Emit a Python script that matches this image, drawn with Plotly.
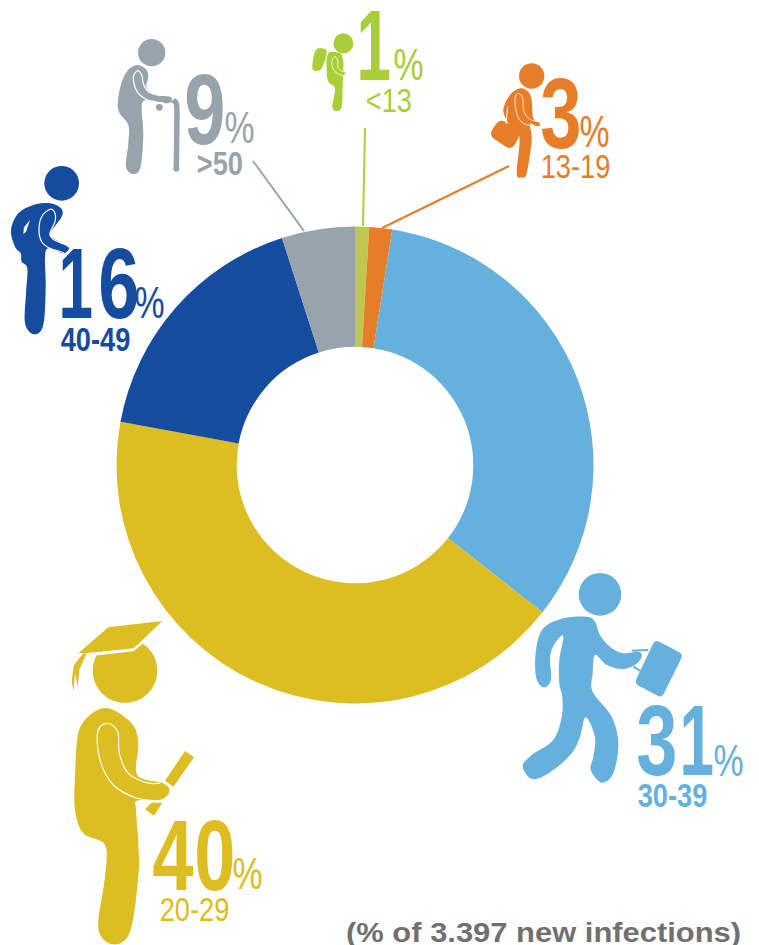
import json
import plotly.graph_objects as go

W, H = 759, 945
CX, CY, R = 355, 465, 238.5

# ---- data ----
age_groups = ["<13", "13-19", "30-39", "20-29", "40-49", ">50"]
slice_shares = [0.95, 1.55, 33.1, 42.3, 17.15, 4.95]   # drawn share of the ring
label_percent = [1, 3, 31, 40, 16, 9]                  # printed figures
slice_colors = ["#BFC751", "#E77D29", "#66B0DE", "#DCBD22", "#164C9F", "#98A4AC"]
text_colors = ["#A8CE38", "#E77D29", "#66B0DE", "#DCBD22", "#164C9F", "#98A4AC"]
note = "(% of 3.397 new infections)"

# ---- decoration helpers (pixel space) ----
shapes = []


def smooth(pts):
    n = len(pts)
    d = f"M{pts[0][0]:.1f},{pts[0][1]:.1f}"
    for i in range(n):
        p0, p1, p2, p3 = pts[i - 1], pts[i], pts[(i + 1) % n], pts[(i + 2) % n]
        c1 = (p1[0] + (p2[0] - p0[0]) / 6, p1[1] + (p2[1] - p0[1]) / 6)
        c2 = (p2[0] - (p3[0] - p1[0]) / 6, p2[1] - (p3[1] - p1[1]) / 6)
        d += f"C{c1[0]:.1f},{c1[1]:.1f} {c2[0]:.1f},{c2[1]:.1f} {p2[0]:.1f},{p2[1]:.1f}"
    return d + "Z"


def open_smooth(pts):
    n = len(pts)
    d = f"M{pts[0][0]:.1f},{pts[0][1]:.1f}"
    for i in range(n - 1):
        p0, p1, p2, p3 = pts[max(i - 1, 0)], pts[i], pts[i + 1], pts[min(i + 2, n - 1)]
        c1 = (p1[0] + (p2[0] - p0[0]) / 6, p1[1] + (p2[1] - p0[1]) / 6)
        c2 = (p2[0] - (p3[0] - p1[0]) / 6, p2[1] - (p3[1] - p1[1]) / 6)
        d += f"C{c1[0]:.1f},{c1[1]:.1f} {c2[0]:.1f},{c2[1]:.1f} {p2[0]:.1f},{p2[1]:.1f}"
    return d


def tr(pts, ox, oy):
    return [(ox + x / 3, oy + y / 3) for x, y in pts]


def blob(pts, color, ox=0, oy=0):
    shapes.append(dict(type="path", path=smooth(tr(pts, ox, oy)), fillcolor=color,
                       line=dict(width=0), xref="x", yref="y"))


def poly(pts, color, ox=0, oy=0):
    p = tr(pts, ox, oy)
    d = "M" + "L".join(f"{x:.1f},{y:.1f}" for x, y in p) + "Z"
    shapes.append(dict(type="path", path=d, fillcolor=color, line=dict(width=0), xref="x", yref="y"))


def rpoly(pts, r, color, ox=0, oy=0):
    """Polygon with rounded corners."""
    p = tr(pts, ox, oy)
    n = len(p)
    d = ""
    for i in range(n):
        a, b, c = p[i - 1], p[i], p[(i + 1) % n]
        la = ((a[0] - b[0]) ** 2 + (a[1] - b[1]) ** 2) ** 0.5
        lc = ((c[0] - b[0]) ** 2 + (c[1] - b[1]) ** 2) ** 0.5
        s = (b[0] + (a[0] - b[0]) * r / la, b[1] + (a[1] - b[1]) * r / la)
        e = (b[0] + (c[0] - b[0]) * r / lc, b[1] + (c[1] - b[1]) * r / lc)
        d += ("M" if i == 0 else "L") + f"{s[0]:.1f},{s[1]:.1f}Q{b[0]:.1f},{b[1]:.1f} {e[0]:.1f},{e[1]:.1f}"
    shapes.append(dict(type="path", path=d + "Z", fillcolor=color, line=dict(width=0), xref="x", yref="y"))


def stroke(pts, color, width=1.2, ox=0, oy=0):
    shapes.append(dict(type="path", path=open_smooth(tr(pts, ox, oy)),
                       line=dict(color=color, width=width), xref="x", yref="y"))


def disc(x, y, r, color, ox=0, oy=0):
    x, y, r = ox + x / 3, oy + y / 3, r / 3
    shapes.append(dict(type="circle", x0=x - r, x1=x + r, y0=y - r, y1=y + r, fillcolor=color,
                       line=dict(width=0), xref="x", yref="y"))


def leader(x0, y0, x1, y1, color):
    shapes.append(dict(type="line", x0=x0, y0=y0, x1=x1, y1=y1, xref="x", yref="y",
                       line=dict(color=color, width=2)))


GREEN, ORANGE, BLUE, GOLD, NAVY, GREY = text_colors

# leaders
leader(365, 128, 363, 226, GREEN)
leader(509, 166, 382, 228, ORANGE)
leader(253, 161, 304, 231, GREY)

# navy figure
disc(185, 550, 52, NAVY)
blob([(150, 610), (100, 615), (55, 640), (33, 690), (45, 740), (62, 760), (65, 785), (82, 805), (78, 880),
      (75, 970), (102, 1003), (130, 975), (137, 860), (135, 775), (145, 745), (190, 760), (207, 745),
      (190, 733), (160, 715), (150, 700), (185, 650), (183, 625)], NAVY)
stroke([(192, 758), (150, 745), (125, 725), (117, 690), (125, 650), (150, 628), (165, 640), (165, 665),
        (150, 700), (160, 718), (190, 732)], "white")
poly([(90, 660), (72, 682), (70, 702), (78, 695)], "white")

# grey figure
disc(455, 158, 41, GREY)
blob([(410, 195), (380, 215), (360, 265), (355, 330), (385, 375), (385, 430), (378, 500), (400, 522),
      (422, 500), (430, 400), (425, 320), (440, 300), (500, 310), (515, 300), (510, 290), (470, 285), (440, 265),
      (445, 225), (435, 205)], GREY)
stroke([(490, 308), (455, 305), (415, 280), (400, 235), (412, 212), (425, 225), (430, 250), (445, 275),
        (480, 287)], "white")
stroke([(518, 300), (530, 318), (530, 420), (529, 506)], GREY, width=5.5)
disc(529, 506, 9, GREY)
disc(478, 322, 10, GREY)

# green figure
disc(130, 130, 30, GREEN, 300, 0)
blob([(60, 145), (80, 155), (65, 205), (45, 212), (37, 200), (45, 155)], GREEN, 300, 0)
blob([(85, 160), (120, 160), (130, 185), (130, 210), (138, 220), (130, 228), (128, 260), (125, 320),
      (110, 333), (97, 320), (105, 265), (85, 245), (80, 210)], GREEN, 300, 0)
stroke([(130, 228), (105, 215), (95, 190), (103, 170), (113, 180), (115, 205), (135, 217)], "white", 0.8, 300, 0)

# orange figure
disc(695, 228, 38, ORANGE, 300, 0)
rpoly([(600, 355), (665, 395), (635, 452), (565, 405)], 8, ORANGE, 300, 0)
blob([(660, 265), (630, 285), (610, 330), (625, 370), (658, 410), (650, 520), (665, 532), (680, 520),
      (695, 420), (690, 372), (712, 380), (720, 370), (700, 355), (695, 300), (685, 275)], ORANGE, 300, 0)
stroke([(623, 320), (618, 372)], "white", 1, 300, 0)
stroke([(715, 380), (670, 370), (650, 340), (645, 295), (655, 280), (668, 295), (672, 335), (690, 358),
        (715, 365)], "white", 0.8, 300, 0)

# light-blue figure
disc(300, 103, 64, BLUE, 500, 560)
blob([(260, 170), (190, 175), (130, 205), (108, 270), (108, 350), (130, 382), (153, 360), (150, 290),
      (165, 250), (190, 228), (178, 300), (178, 370), (187, 410), (185, 470), (160, 540), (95, 585),
      (68, 620), (100, 658), (160, 630), (215, 580), (240, 530), (257, 472), (285, 530), (280, 590),
      (272, 630), (305, 668), (340, 640), (355, 550), (335, 470), (278, 395), (278, 340), (285, 285),
      (320, 315), (365, 327), (405, 315), (425, 290), (415, 275), (370, 280), (330, 260), (300, 225),
      (285, 185)], BLUE, 500, 560)
rpoly([(465, 238), (550, 283), (485, 414), (403, 370)], 5, BLUE, 500, 560)
stroke([(395, 272), (445, 270)], BLUE, 2, 500, 560)
stroke([(400, 320), (422, 333)], BLUE, 2, 500, 560)

# gold figure
disc(225, 182, 97, GOLD, 50, 610)
poly([(125, 138), (250, 124), (290, 92), (335, 60), (125, 60)], "white", 50, 610)
poly([(85, 130), (175, 52), (337, 33), (262, 105), (250, 115), (120, 128)], GOLD, 50, 610)
poly([(100, 130), (72, 165), (65, 210), (70, 245), (75, 190), (83, 230), (88, 180), (110, 130)], GOLD, 50, 610)
blob([(175, 295), (120, 315), (85, 370), (75, 500), (75, 600), (100, 670), (165, 705), (165, 800),
      (145, 955), (190, 1003), (240, 965), (265, 800), (265, 700), (258, 600), (262, 572), (330, 570),
      (358, 545), (340, 520), (262, 495), (265, 400), (245, 340)], GOLD, 50, 610)
stroke([(330, 572), (262, 565), (190, 525), (150, 450), (143, 365), (172, 340), (203, 365), (208, 430),
        (235, 490), (290, 518), (330, 520)], "white", 1.2, 50, 610)
poly([(405, 423), (432, 442), (370, 530), (345, 512)], GOLD, 50, 610)
poly([(305, 578), (337, 578), (312, 617), (285, 598)], GOLD, 50, 610)

# ---- text ----
FONT = "Liberation Sans"
annotations = []
text_scales = []


def txt(s, x, y, size, color, bold=False, scale=1.0):
    annotations.append(dict(text=s, x=x, y=y, xref="x", yref="y", showarrow=False,
                            xanchor="center", yanchor="middle",
                            font=dict(family=FONT, size=size, color=color, weight="bold" if bold else "normal")))
    text_scales.append(scale)


# index into the data: 0 <13, 1 13-19, 2 30-39, 3 20-29, 4 40-49, 5 >50
digit_places = {0: [(374, 45)], 1: [(561, 113)], 2: [(657, 740), (697, 740)], 3: [(173, 855), (215, 855)],
                4: [(76, 283), (119, 283)], 5: [(205, 109)]}
pct_places = {0: (408, 64), 1: (594, 131), 2: (728, 760), 3: (247, 873), 4: (149, 302), 5: (239, 127)}
range_places = {0: (389, 100, False), 1: (575, 166, False), 2: (672, 795, True), 3: (194, 909, False),
                4: (95, 339, True), 5: (220, 163, True)}

for i in range(len(age_groups)):
    for ch, (x, y) in zip(str(label_percent[i]), digit_places[i]):
        txt(ch, x, y, 100, text_colors[i], bold=True, scale=0.62 if ch == "1" else 0.74)
    px, py = pct_places[i]
    txt("%", px, py, 44, text_colors[i], scale=0.77)
    rx, ry, rb = range_places[i]
    txt(age_groups[i].replace("<", "&lt;").replace(">", "&gt;"), rx, ry, 34, text_colors[i], bold=rb, scale=0.8)

txt(note, 543, 933, 27, "#707070", bold=True, scale=1.145)

# ---- figure ----
fig = go.Figure(go.Pie(
    labels=age_groups,
    values=slice_shares,
    sort=False,
    direction="clockwise",
    rotation=0,
    hole=0.496,
    textinfo="none",
    hoverinfo="skip",
    marker=dict(colors=slice_colors, line=dict(width=0)),
    domain=dict(x=[(CX - R) / W, (CX + R) / W], y=[1 - (CY + R) / H, 1 - (CY - R) / H]),
    showlegend=False,
))
fig.update_layout(
    width=W, height=H,
    margin=dict(l=0, r=0, t=0, b=0),
    paper_bgcolor="white", plot_bgcolor="rgba(0,0,0,0)",
    xaxis=dict(range=[0, W], visible=False, fixedrange=True, domain=[0, 1]),
    yaxis=dict(range=[H, 0], visible=False, fixedrange=True, domain=[0, 1]),
    shapes=shapes,
    annotations=annotations,
)
squeeze = """
document.body.style.margin='0';document.body.style.overflow='hidden';
var scales = %s;
document.querySelectorAll('g.annotation').forEach(function(g){
  var i = +g.getAttribute('data-index');
  var t = g.querySelector('text');
  if(!t) return;
  t.setAttribute('lengthAdjust','spacingAndGlyphs');
  t.setAttribute('textLength', t.getComputedTextLength()*scales[i]);
});
""" % json.dumps(text_scales)
fig.write_html("out.html", config=dict(displayModeBar=False), post_script=squeeze)
